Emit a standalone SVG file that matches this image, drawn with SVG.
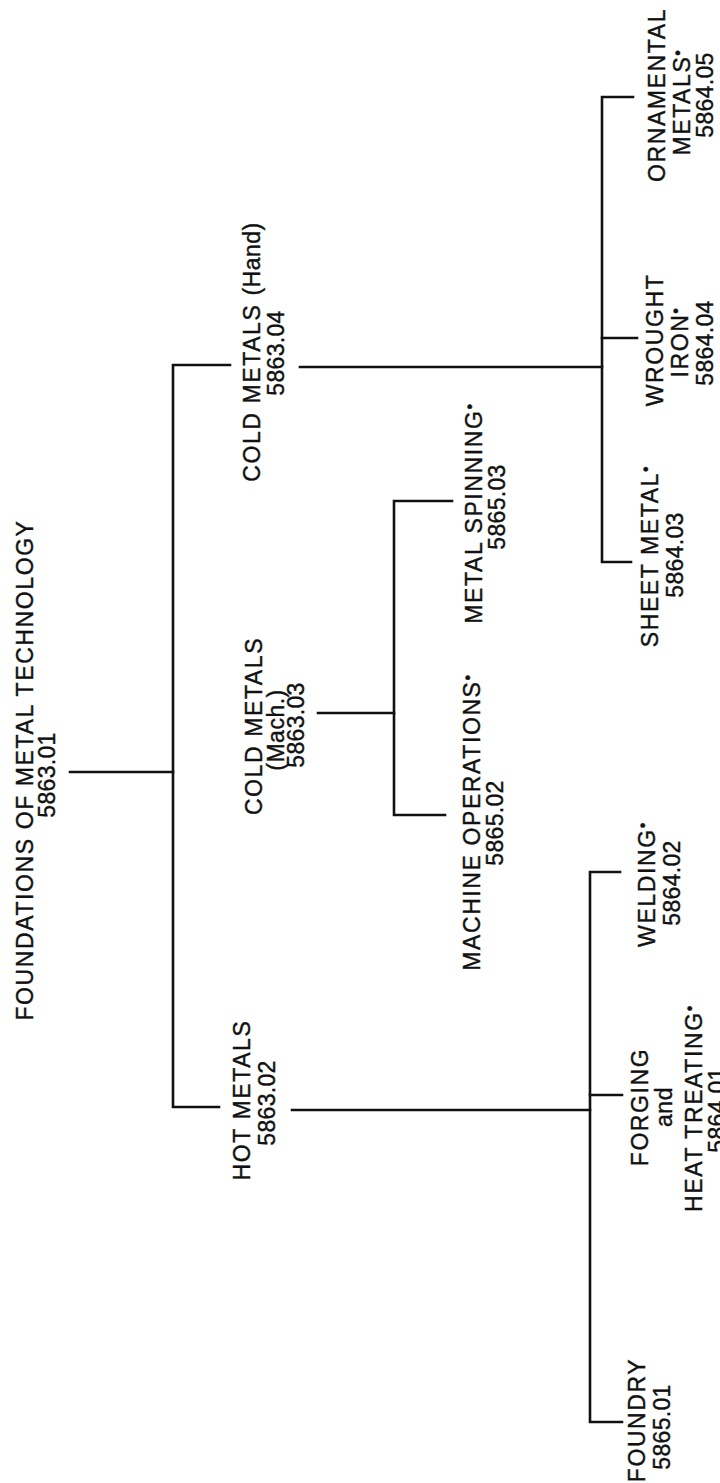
<svg xmlns="http://www.w3.org/2000/svg" width="720" height="1483" viewBox="0 0 720 1483">
<style>
text{font-family:"Liberation Sans",Arial,sans-serif;font-size:23px;fill:#111;stroke:#111;stroke-width:0.4;text-anchor:middle;letter-spacing:1.6px}
text.n{letter-spacing:0.3px}
text.s{letter-spacing:0.5px}
.b{font-size:16px}
#connectors path{fill:none;stroke:#111;stroke-width:2.6;stroke-linecap:square}
</style>
<rect width="720" height="1483" fill="#fff"/>
<g id="connectors">
<path d="M70,772 H173"/>
<path d="M230,365 H173 V1107 H219"/>
<path d="M300,367 H602"/>
<path d="M633,97 H602 V562 H631"/>
<path d="M602,338 H637"/>
<path d="M318,713 H394"/>
<path d="M452,501 H394 V815 H445"/>
<path d="M292,1110 H590"/>
<path d="M620,872 H590 V1422 H622"/>
<path d="M590,1095 H622"/>
</g>
<g id="root">
<text transform="translate(33,770) rotate(-90)">FOUNDATIONS OF METAL TECHNOLOGY</text>
<text class="n" transform="translate(55,775) rotate(-90)">5863.01</text>
</g>
<g id="coldHand">
<text transform="translate(260,352) rotate(-90)">COLD METALS <tspan style="letter-spacing:0.5px">(Hand)</tspan></text>
<text class="n" transform="translate(284,353) rotate(-90)">5863.04</text>
</g>
<g id="coldMach">
<text transform="translate(262,726) rotate(-90)">COLD METALS</text>
<text class="s" transform="translate(284,730) rotate(-90)">(Mach.)</text>
<text class="n" transform="translate(304,725) rotate(-90)">5863.03</text>
</g>
<g id="hotMetals">
<text transform="translate(250,1100) rotate(-90)">HOT METALS</text>
<text class="n" transform="translate(275,1103) rotate(-90)">5863.02</text>
</g>
<g id="metalSpinning">
<text transform="translate(482,513) rotate(-90)">METAL SPINNING<tspan class="b" dy="-7">•</tspan></text>
<text class="n" transform="translate(505,507) rotate(-90)">5865.03</text>
</g>
<g id="machineOperations">
<text transform="translate(480,822) rotate(-90)">MACHINE OPERATIONS<tspan class="b" dy="-7">•</tspan></text>
<text class="n" transform="translate(503,823) rotate(-90)">5865.02</text>
</g>
<g id="sheetMetal">
<text transform="translate(658,556) rotate(-90)">SHEET METAL<tspan class="b" dy="-7">•</tspan></text>
<text class="n" transform="translate(683,555) rotate(-90)">5864.03</text>
</g>
<g id="wroughtIron">
<text transform="translate(663,340) rotate(-90)">WROUGHT</text>
<text transform="translate(688,342) rotate(-90)">IRON<tspan class="b" dy="-7">•</tspan></text>
<text class="n" transform="translate(713,343) rotate(-90)">5864.04</text>
</g>
<g id="ornamentalMetals">
<text transform="translate(665,95) rotate(-90)">ORNAMENTAL</text>
<text transform="translate(690,102) rotate(-90)">METALS<tspan class="b" dy="-7">•</tspan></text>
<text class="n" transform="translate(713,95) rotate(-90)">5864.05</text>
</g>
<g id="welding">
<text transform="translate(655,884) rotate(-90)">WELDING<tspan class="b" dy="-7">•</tspan></text>
<text class="n" transform="translate(680,883) rotate(-90)">5864.02</text>
</g>
<g id="forging">
<text transform="translate(648,1107) rotate(-90)">FORGING</text>
<text class="s" transform="translate(672,1107) rotate(-90)">and</text>
<text transform="translate(702,1108) rotate(-90)">HEAT TREATING<tspan class="b" dy="-7">•</tspan></text>
<text class="n" transform="translate(725,1110) rotate(-90)">5864.01</text>
</g>
<g id="foundry">
<text transform="translate(645,1420) rotate(-90)">FOUNDRY</text>
<text class="n" transform="translate(670,1427) rotate(-90)">5865.01</text>
</g>
</svg>
